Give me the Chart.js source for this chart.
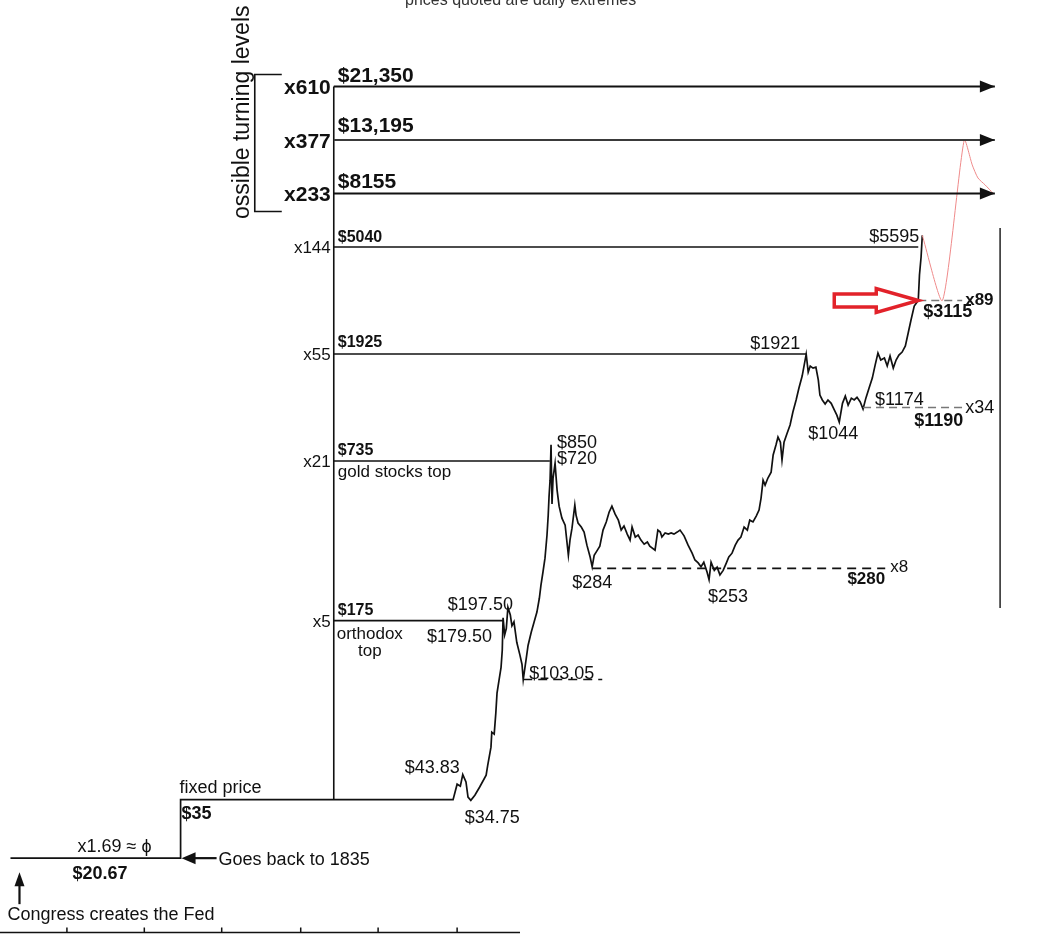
<!DOCTYPE html>
<html>
<head>
    <title>Gold - possible turning levels</title>
    <meta charset="utf-8" />
    <script src="https://cdn.jsdelivr.net/npm/chart.js"></script>
    <style>
        body {
            margin: 0;
            padding: 0;
            background: #fff;
            font-family: "Liberation Sans", Arial, sans-serif;
        }

        #wrap {
            width: 1040px;
            height: 934px;
            position: relative;
        }
    </style>
</head>
<body>
    <div id="wrap">
        <canvas id="gold"></canvas>
    </div>

    <script>
        // price path, [year, $/oz]
        const fixedEra = [[1913, 20.67], [1934.1, 20.67], [1934.1, 35], [1967.9, 35]];
        const era1968 = [[1968.4, 40.2], [1968.8, 39.5], [1969.1, 43.83], [1969.5, 41.0], [1969.75, 35.8], [1970.1, 34.75],
            [1970.6, 36.4], [1971.2, 39.2], [1972.0, 43.6], [1972.2, 47.7], [1972.6, 56.1], [1972.7, 64.2], [1973.0, 63.1],
            [1973.2, 76.2], [1973.35, 91.2], [1973.6, 102.5], [1973.85, 115], [1974.0, 134], [1974.1, 179.5], [1974.3, 154],
            [1974.5, 163], [1974.7, 197.5], [1975.0, 184], [1975.2, 167], [1975.45, 173], [1975.8, 144], [1976.2, 128],
            [1976.45, 118], [1976.6, 103.05]];
        const era1976 = [[1976.95, 123], [1977.2, 140], [1977.6, 158], [1977.95, 173], [1978.3, 189], [1978.6, 214],
            [1978.8, 241], [1979.05, 271], [1979.3, 307], [1979.55, 378], [1979.7, 452], [1979.8, 532], [1979.93, 619],
            [1980.05, 850], [1980.17, 500], [1980.3, 631], [1980.55, 720], [1980.8, 566], [1981.05, 490], [1981.4, 440],
            [1981.8, 413], [1982.2, 315], [1982.4, 361], [1982.65, 402], [1983.0, 495], [1983.15, 452], [1983.4, 421],
            [1983.8, 406], [1984.15, 388], [1984.5, 345], [1984.9, 310], [1985.15, 284]];
        const era1985 = [[1985.4, 315], [1985.8, 330], [1986.1, 342], [1986.5, 395], [1986.9, 425], [1987.25, 464],
            [1987.6, 490], [1988.0, 456], [1988.4, 432], [1988.75, 395], [1989.1, 410], [1989.5, 381], [1989.85, 361],
            [1990.1, 406], [1990.5, 371], [1990.85, 378], [1991.2, 361], [1991.6, 348], [1992.0, 355], [1992.3, 342],
            [1992.95, 330], [1993.3, 395], [1993.6, 388], [1993.8, 371], [1994.2, 385], [1994.6, 381], [1994.95, 385],
            [1995.3, 381], [1995.7, 388], [1996.05, 395], [1996.55, 375], [1997.05, 345], [1997.55, 321], [1997.9, 302],
            [1998.3, 294], [1998.65, 284], [1999.0, 296], [1999.4, 271], [1999.65, 253], [1999.9, 296], [2000.3, 275],
            [2000.65, 283], [2001.0, 264]];
        const era2001 = [[2001.4, 275], [2001.8, 294], [2002.1, 310], [2002.5, 321], [2002.9, 345], [2003.25, 361],
            [2003.6, 371], [2004.0, 406], [2004.4, 395], [2004.7, 432], [2005.1, 425], [2005.5, 448], [2005.85, 473],
            [2006.1, 527], [2006.35, 619], [2006.6, 592], [2006.95, 631], [2007.35, 665], [2007.6, 776], [2007.95, 849],
            [2008.2, 912], [2008.5, 871], [2008.7, 741], [2008.95, 871], [2009.3, 937], [2009.7, 1016], [2010.05, 1142],
            [2010.45, 1273], [2010.8, 1417], [2011.2, 1578], [2011.7, 1921], [2011.95, 1637], [2012.2, 1727],
            [2012.55, 1696], [2012.9, 1710], [2013.2, 1524], [2013.4, 1330], [2013.7, 1273], [2014.05, 1227],
            [2014.4, 1273], [2014.8, 1235], [2015.2, 1161], [2015.5, 1111], [2015.8, 1044], [2016.2, 1235],
            [2016.55, 1318], [2016.9, 1216], [2017.3, 1294], [2017.65, 1273], [2018.0, 1303], [2018.4, 1250],
            [2018.75, 1174], [2019.1, 1294], [2019.5, 1417], [2019.9, 1550], [2020.25, 1742], [2020.6, 1941],
            [2020.95, 1824], [2021.4, 1856], [2021.75, 1727], [2022.1, 1890], [2022.5, 1696], [2022.85, 1824],
            [2023.2, 1907], [2023.6, 1959], [2024.0, 2068], [2024.35, 2324], [2024.7, 2612], [2025.1, 2962],
            [2025.6, 3115], [2025.75, 3917], [2025.95, 4603], [2026.1, 5595]];
        // hand drawn red projection
        const projection = [[2026.1, 5595], [2028.6, 3115], [2031.3, 13195], [2032.3, 10530], [2033.0, 9376],
            [2033.9, 8800], [2034.9, 8155]];

        // fibonacci multiples of $35
        const levelValues = [175, 735, 1925, 5040, 8155, 13195, 21350];
        const levelNames = ["x5", "x21", "x55", "x144", "x233", "x377", "x610"];
        const levelEnds = [1974.1, 1979.9, 2011.7, 2025.6, 2035.1, 2035.1, 2035.1];
        const levelStart = 1953.1;

        const supportValues = [103.05, 280, 1190, 3115];
        const supportStarts = [1976.6, 1985.15, 2018.75, 2025.6];
        const supportEnds = [1986.4, 2021.5, 2031.05, 2031.05];

        const axisTicks = [1920, 1929.6, 1939.2, 1949, 1958.6, 1968.4];

        const pts = arr => arr.map(([x, y]) => ({ x: x, y: y }));

        const R17 = '17px "Liberation Sans", Arial, sans-serif';
        const R18 = '18px "Liberation Sans", Arial, sans-serif';
        const B16 = 'bold 16px "Liberation Sans", Arial, sans-serif';
        const B17 = 'bold 17px "Liberation Sans", Arial, sans-serif';
        const B18 = 'bold 18px "Liberation Sans", Arial, sans-serif';
        const B21 = 'bold 21px "Liberation Sans", Arial, sans-serif';

        // text, anchor year, anchor price, dx, dy, font, align
        const labels = [
            ["$21,350", levelStart, 21350, 4, -4, B21, "left"],
            ["$13,195", levelStart, 13195, 4, -8, B21, "left"],
            ["$8155", levelStart, 8155, 4, -5, B21, "left"],
            ["$5040", levelStart, 5040, 4, -5, B16, "left"],
            ["$1925", levelStart, 1925, 4, -7, B16, "left"],
            ["$735", levelStart, 735, 4, -6, B16, "left"],
            ["gold stocks top", levelStart, 735, 4, 16, R17, "left"],
            ["$175", levelStart, 175, 4, -6, B16, "left"],
            ["orthodox", levelStart, 175, 36, 18, R17, "center"],
            ["top", levelStart, 175, 36, 35, R17, "center"],
            ["$43.83", 1969.1, 43.83, -3, -2, R18, "right"],
            ["$34.75", 1970.1, 34.75, -6, 23, R18, "left"],
            ["$197.50", 1974.7, 197.5, 5, 3, R18, "right"],
            ["$179.50", 1974.1, 179.5, -11, 24, R18, "right"],
            ["$103.05", 1976.6, 103.05, 6, -1, R18, "left"],
            ["$850", 1980.05, 850, 6, 3, R18, "left"],
            ["$720", 1980.55, 720, 2, 1, R18, "left"],
            ["$284", 1985.15, 284, -20, 21, R18, "left"],
            ["$253", 1999.65, 253, -1, 22, R18, "left"],
            ["$280", 2021.5, 280, 0, 16, B17, "right"],
            ["x8", 2021.5, 280, 5, 4, R17, "left"],
            ["$1921", 2011.7, 1921, -6, -5, R18, "right"],
            ["$1044", 2015.8, 1044, -31, 17, R18, "left"],
            ["$1174", 2018.75, 1174, 12, -4, R18, "left"],
            ["$1190", 2031.05, 1190, 1, 19, B18, "right"],
            ["x34", 2031.05, 1190, 3, 6, R18, "left"],
            ["$5595", 2025.6, 5040, 1, -5, R18, "right"],
            ["$3115", 2025.6, 3115, 5, 17, B18, "left"],
            ["x89", 2031.05, 3115, 3, 5, B17, "left"],
            ["fixed price", 1934.1, 35, -1, -7, R18, "left"],
            ["$35", 1934.1, 35, 1, 19, B18, "left"],
            ["x1.69 \u2248 \u03d5", 1913, 20.67, 67, -6, R18, "left"],
            ["$20.67", 1913, 20.67, 62, 21, B18, "left"],
            ["Goes back to 1835", 1934.1, 20.67, 38, 7, R18, "left"],
            ["Congress creates the Fed", 1913, 20.67, -3, 62, R18, "left"]
        ];

        const datasets = [];

        levelValues.forEach((v, i) => {
            datasets.push({
                data: [{ x: levelStart, y: v }, { x: levelEnds[i], y: v }],
                borderColor: i === 5 ? "#3a3a3a" : "#111",
                borderWidth: i >= 4 ? 2 : 1.6
            });
        });

        supportValues.forEach((v, i) => {
            datasets.push({
                data: [{ x: supportStarts[i], y: v }, { x: supportEnds[i], y: v }],
                borderColor: i >= 2 ? "#777" : "#111",
                borderWidth: 1.6,
                borderDash: i >= 2 ? [8, 5] : [9, 6]
            });
        });

        // bracket line and the image edge on the right
        datasets.push({
            data: [{ x: levelStart, y: 35 }, { x: levelStart, y: 21350 }],
            borderColor: "#111",
            borderWidth: 1.6
        });
        datasets.push({
            data: [{ x: 2035.75, y: 196 }, { x: 2035.75, y: 5975 }],
            borderColor: "#222",
            borderWidth: 1.5
        });

        datasets.push({
            data: pts(projection),
            borderColor: "#ef8a8a",
            borderWidth: 1,
            tension: 0.2
        });

        datasets.push({
            data: pts(fixedEra.concat(era1968, era1976, era1985, era2001)),
            borderColor: "#111",
            borderWidth: 1.7
        });

        const annotate = {
            id: "annotate",
            afterDatasetsDraw(chart) {
                const ctx = chart.ctx;
                const px = v => chart.scales.x.getPixelForValue(v);
                const py = v => chart.scales.y.getPixelForValue(v);
                const area = chart.chartArea;

                ctx.save();
                ctx.fillStyle = "#111";
                ctx.strokeStyle = "#111";
                ctx.textBaseline = "alphabetic";

                labels.forEach(([t, x, y, dx, dy, font, align]) => {
                    ctx.font = font;
                    ctx.textAlign = align;
                    ctx.fillText(t, px(x) + dx, py(y) + dy);
                });

                // multiplier labels left of the bracket line
                levelValues.forEach((v, i) => {
                    ctx.font = i >= 4 ? B21 : R17;
                    ctx.textAlign = "right";
                    ctx.fillText(levelNames[i], px(levelStart) - 3, py(v) + (i >= 4 ? 8 : 6));
                });

                // arrow heads of the top levels
                levelValues.forEach((v, i) => {
                    if (i < 4) return;
                    const tx = px(levelEnds[i]), ty = py(v);
                    ctx.beginPath();
                    ctx.moveTo(tx, ty);
                    ctx.lineTo(tx - 15, ty - 6);
                    ctx.lineTo(tx - 15, ty + 6);
                    ctx.closePath();
                    ctx.fill();
                });

                // bracket of the possible turning levels
                const bx = px(levelStart) - 79;
                const bTop = py(21350) - 12, bBot = py(8155) + 18;
                ctx.lineWidth = 1.6;
                ctx.beginPath();
                ctx.moveTo(bx + 27, bTop);
                ctx.lineTo(bx, bTop);
                ctx.lineTo(bx, bBot);
                ctx.lineTo(bx + 27, bBot);
                ctx.stroke();

                ctx.save();
                ctx.translate(bx - 6, 219);
                ctx.rotate(-Math.PI / 2);
                ctx.font = '23px "Liberation Sans", Arial, sans-serif';
                ctx.textAlign = "left";
                ctx.fillText("ossible turning levels", 0, 0);
                ctx.restore();

                ctx.font = '16px "Liberation Sans", Arial, sans-serif';
                ctx.fillStyle = "#333";
                ctx.textAlign = "left";
                ctx.fillText("prices quoted are daily extremes", area.left + 405, area.top + 5);
                ctx.fillStyle = "#111";

                // arrow "Goes back to 1835"
                let ax = px(1934.1) + 1, ay = py(20.67);
                ctx.beginPath();
                ctx.moveTo(ax, ay);
                ctx.lineTo(ax + 14, ay - 6);
                ctx.lineTo(ax + 14, ay + 6);
                ctx.closePath();
                ctx.fill();
                ctx.lineWidth = 2.2;
                ctx.beginPath();
                ctx.moveTo(ax + 12, ay);
                ctx.lineTo(ax + 35, ay);
                ctx.stroke();

                // arrow "Congress creates the Fed"
                ax = px(1913) + 9;
                ay = py(20.67) + 14;
                ctx.beginPath();
                ctx.moveTo(ax, ay);
                ctx.lineTo(ax - 5, ay + 14);
                ctx.lineTo(ax + 5, ay + 14);
                ctx.closePath();
                ctx.fill();
                ctx.beginPath();
                ctx.moveTo(ax, ay + 12);
                ctx.lineTo(ax, ay + 32);
                ctx.stroke();

                // red outline arrow pointing at $3115
                const rx = px(2025.6), ry = py(3115);
                ctx.strokeStyle = "#e2222a";
                ctx.lineWidth = 3.5;
                ctx.lineJoin = "miter";
                ctx.beginPath();
                ctx.moveTo(rx, ry);
                ctx.lineTo(rx - 42, ry - 12);
                ctx.lineTo(rx - 42, ry - 6.5);
                ctx.lineTo(rx - 84, ry - 6.5);
                ctx.lineTo(rx - 84, ry + 6.5);
                ctx.lineTo(rx - 42, ry + 6.5);
                ctx.lineTo(rx - 42, ry + 12);
                ctx.closePath();
                ctx.stroke();

                // bottom time axis (only the left part is visible)
                const yb = area.bottom - 1.5;
                ctx.strokeStyle = "#111";
                ctx.lineWidth = 1.5;
                ctx.beginPath();
                ctx.moveTo(px(1911.7), yb);
                ctx.lineTo(px(1976.2), yb);
                axisTicks.forEach(t => {
                    ctx.moveTo(px(t), yb);
                    ctx.lineTo(px(t), yb - 5);
                });
                ctx.stroke();

                ctx.restore();
            }
        };

        new Chart(document.getElementById("gold"), {
            type: "line",
            data: { datasets: datasets },
            options: {
                responsive: true,
                maintainAspectRatio: false,
                animation: false,
                layout: { padding: 0 },
                elements: { point: { radius: 0 }, line: { fill: false } },
                plugins: {
                    legend: { display: false },
                    tooltip: { enabled: false }
                },
                scales: {
                    x: { type: "linear", min: 1911.7, max: 2040.7, bounds: "data", display: false },
                    y: { type: "logarithmic", min: 10.45, max: 46450, bounds: "data", display: false }
                }
            },
            plugins: [annotate]
        });
    </script>
</body>
</html>
